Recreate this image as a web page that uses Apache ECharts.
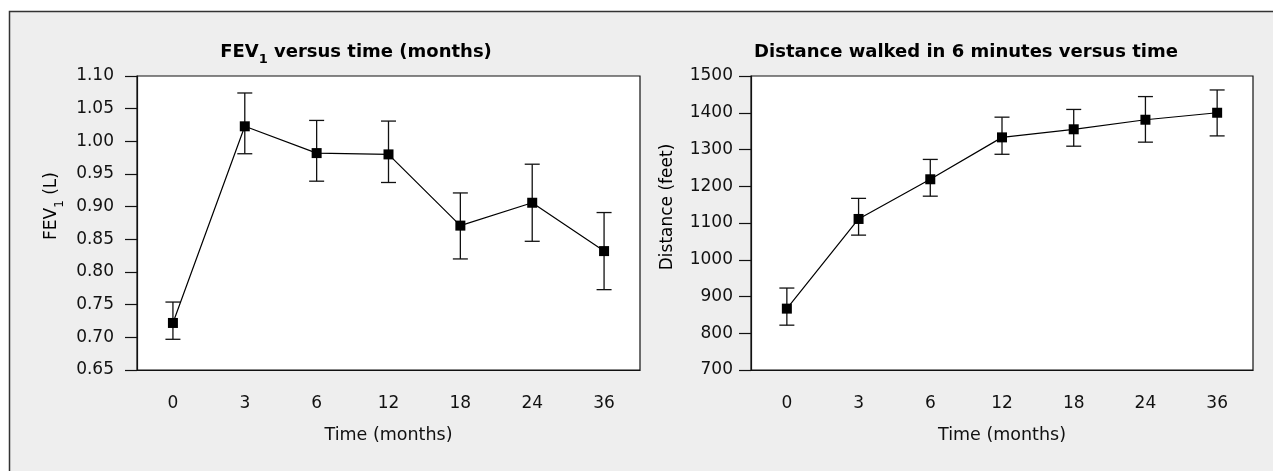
<!DOCTYPE html>
<html lang="en">
<head>
  <meta charset="UTF-8">
  <title>FEV1 and 6-minute walk versus time</title>
  <style>
    html, body { margin: 0; padding: 0; background: #fff; }
    #chart { width: 1273px; height: 471px; }
  </style>
</head>
<body>
  <div id="chart"></div>
  <script src="https://cdn.jsdelivr.net/npm/echarts@6/dist/echarts.min.js"></script>
  <script>
    // months of follow-up (equally spaced categories)
    var months = ['0', '3', '6', '12', '18', '24', '36']

    // FEV1 (L): mean and error bar ends
    var fevMean = [0.722, 1.023, 0.982, 0.980, 0.871, 0.906, 0.832]
    var fevLow = [0.697, 0.981, 0.939, 0.937, 0.820, 0.847, 0.773]
    var fevHigh = [0.754, 1.074, 1.032, 1.031, 0.921, 0.965, 0.891]

    // six minute walk distance (feet)
    var distMean = [867, 1111, 1219, 1333, 1355, 1381, 1400]
    var distLow = [822, 1067, 1173, 1287, 1309, 1320, 1337]
    var distHigh = [923, 1167, 1273, 1388, 1409, 1444, 1462]

    var font = 'DejaVu Sans'
    var ink = '#111'

    function errData(low, high) {
      var out = []
      for (var i = 0; i < low.length; i++) out.push([i, low[i], high[i]])
      return out
    }

    // vertical bar with caps
    function renderErr(params, api) {
      var lo = api.coord([api.value(0), api.value(1)])
      var hi = api.coord([api.value(0), api.value(2)])
      var w = 7.5
      var st = { stroke: ink, lineWidth: 1.3 }
      return {
        type: 'group',
        children: [
          { type: 'line', shape: { x1: lo[0], y1: lo[1], x2: hi[0], y2: hi[1] }, style: st },
          { type: 'line', shape: { x1: lo[0] - w, y1: lo[1], x2: lo[0] + w, y2: lo[1] }, style: st },
          { type: 'line', shape: { x1: hi[0] - w, y1: hi[1], x2: hi[0] + w, y2: hi[1] }, style: st }
        ]
      }
    }

    function xAxisFor(idx) {
      return {
        type: 'category',
        gridIndex: idx,
        data: months,
        boundaryGap: true,
        name: 'Time (months)',
        nameLocation: 'middle',
        nameGap: 56,
        nameTextStyle: { fontFamily: font, fontSize: 17.5, color: ink },
        axisLine: { lineStyle: { color: ink, width: 1.2 } },
        axisTick: { alignWithLabel: true, length: 14, lineStyle: { color: ink, width: 1.2 } },
        axisLabel: { margin: 25, fontFamily: font, fontSize: 17, color: ink },
        splitLine: { show: false }
      }
    }

    var richTitle = {
      a: { fontFamily: font, fontSize: 18, fontWeight: 'bold', color: '#000', lineHeight: 29 },
      s: { fontFamily: font, fontSize: 13, fontWeight: 'bold', color: '#000', lineHeight: 14, padding: [15, 0, 0, 0] }
    }
    var richName = {
      a: { fontFamily: font, fontSize: 17, color: ink, lineHeight: 28 },
      s: { fontFamily: font, fontSize: 12, color: ink, lineHeight: 13, padding: [15, 0, 0, 0] }
    }

    var myChart = echarts.init(document.getElementById('chart'))
    var option = {
      backgroundColor: '#fff',
      animation: false,
      graphic: [
        {
          type: 'rect', z: -10, silent: true,
          shape: { x: 9.5, y: 11.5, width: 1300, height: 500 },
          style: { fill: '#eeeeee', stroke: '#333', lineWidth: 1.5 }
        },
        {
          type: 'text', x: 356, y: 52,
          style: { text: '{a|FEV}{s|1}{a| versus time (months)}', rich: richTitle, align: 'center', verticalAlign: 'middle' }
        },
        {
          type: 'text', x: 966, y: 52,
          style: { text: '{a|Distance walked in 6 minutes versus time}', rich: richTitle, align: 'center', verticalAlign: 'middle' }
        },
        {
          type: 'text', x: 52, y: 206, rotation: Math.PI / 2,
          style: { text: '{a|FEV}{s|1}{a| (L)}', rich: richName, align: 'center', verticalAlign: 'middle' }
        },
        {
          type: 'text', x: 668, y: 207, rotation: Math.PI / 2,
          style: { text: '{a|Distance (feet)}', rich: richName, align: 'center', verticalAlign: 'middle' }
        }
      ],
      grid: [
        { left: 137, top: 76, width: 503, height: 294, show: true, backgroundColor: '#fff', borderColor: ink, borderWidth: 1.2 },
        { left: 751, top: 76, width: 502, height: 294, show: true, backgroundColor: '#fff', borderColor: ink, borderWidth: 1.2 }
      ],
      xAxis: [xAxisFor(0), xAxisFor(1)],
      yAxis: [
        {
          type: 'value', gridIndex: 0, min: 0.65, max: 1.10, interval: 0.05,
          axisLine: { show: true, lineStyle: { color: ink, width: 1.2 } },
          axisTick: { show: true, length: 12, lineStyle: { color: ink, width: 1.2 } },
          axisLabel: {
            margin: 23, fontFamily: font, fontSize: 17, color: ink,
            formatter: function (v) { return v.toFixed(2) }
          },
          splitLine: { show: false }
        },
        {
          type: 'value', gridIndex: 1, min: 700, max: 1500, interval: 100,
          axisLine: { show: true, lineStyle: { color: ink, width: 1.2 } },
          axisTick: { show: true, length: 12, lineStyle: { color: ink, width: 1.2 } },
          axisLabel: {
            margin: 18, fontFamily: font, fontSize: 17, color: ink,
            formatter: function (v) { return String(v) }
          },
          splitLine: { show: false }
        }
      ],
      series: [
        {
          type: 'custom', xAxisIndex: 0, yAxisIndex: 0,
          renderItem: renderErr, data: errData(fevLow, fevHigh), z: 2
        },
        {
          type: 'line', xAxisIndex: 0, yAxisIndex: 0, data: fevMean,
          symbol: 'rect', symbolSize: 10, showAllSymbol: true,
          itemStyle: { color: '#000' }, lineStyle: { color: '#000', width: 1.2 }, z: 3
        },
        {
          type: 'custom', xAxisIndex: 1, yAxisIndex: 1,
          renderItem: renderErr, data: errData(distLow, distHigh), z: 2
        },
        {
          type: 'line', xAxisIndex: 1, yAxisIndex: 1, data: distMean,
          symbol: 'rect', symbolSize: 10, showAllSymbol: true,
          itemStyle: { color: '#000' }, lineStyle: { color: '#000', width: 1.2 }, z: 3
        }
      ]
    }
    myChart.setOption(option)
  </script>
</body>
</html>
